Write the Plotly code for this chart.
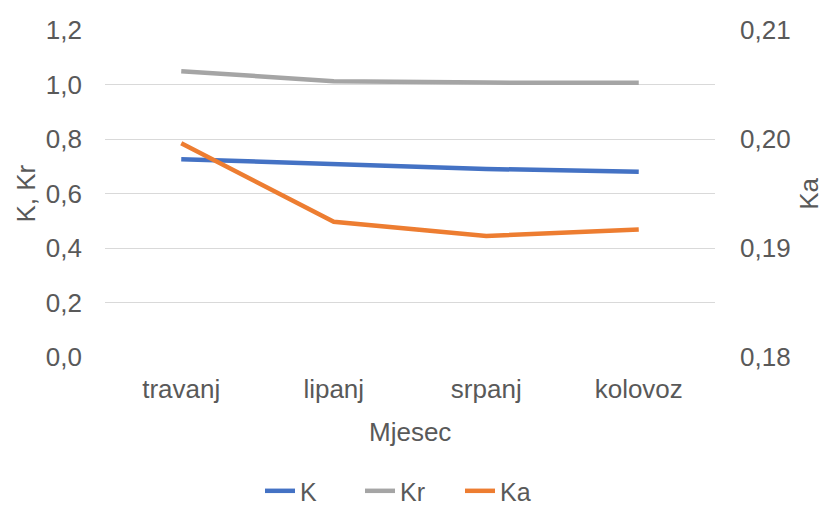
import plotly.graph_objects as go

months = ["travanj", "lipanj", "srpanj", "kolovoz"]
K = [0.726, 0.707, 0.690, 0.680]
Kr = [1.049, 1.012, 1.007, 1.006]
Ka = [0.1996, 0.1924, 0.1911, 0.1917]

FONT = "Liberation Sans, Arial, sans-serif"
GREY = "#595959"
FS = 26

fig = go.Figure()
fig.add_trace(go.Scatter(x=months, y=K, name="K", mode="lines",
                         line=dict(color="#4472C4", width=4.5)))
fig.add_trace(go.Scatter(x=months, y=Kr, name="Kr", mode="lines",
                         line=dict(color="#A5A5A5", width=4.5)))
fig.add_trace(go.Scatter(x=months, y=Ka, name="Ka", mode="lines", yaxis="y2",
                         line=dict(color="#ED7D31", width=4.5)))

fig.update_layout(
    width=827, height=506,
    margin=dict(l=105, r=112, t=30, b=149, autoexpand=False),
    paper_bgcolor="white", plot_bgcolor="white",
    separators=",.",
    font=dict(family=FONT, size=FS, color=GREY),
    showlegend=True,
    legend=dict(orientation="h", x=0.5, xanchor="center", y=-0.41, yanchor="middle",
                font=dict(size=25, color=GREY), entrywidth=55,
                entrywidthmode="pixels", tracegroupgap=0),
    xaxis=dict(
        type="category", range=[-0.5, 3.5], showgrid=False, zeroline=False,
        showline=False, ticks="", tickfont=dict(size=FS, color=GREY),
        ticklabelstandoff=14, automargin=False,
    ),
    yaxis=dict(
        range=[0, 1.2], dtick=0.2, tickformat=".1f", showgrid=True,
        gridcolor="#D9D9D9", gridwidth=1, zeroline=False, showline=False,
        ticks="", ticklabelstandoff=22, tickfont=dict(size=FS, color=GREY),
        automargin=False,
    ),
    yaxis2=dict(
        range=[0.18, 0.21], dtick=0.01, tickformat=".2f", overlaying="y",
        side="right", showgrid=False, zeroline=False, showline=False,
        ticks="", ticklabelstandoff=24, tickfont=dict(size=FS, color=GREY),
        automargin=False,
    ),
    annotations=[
        dict(text="Mjesec", xref="paper", yref="paper", x=0.5, y=-0.23,
             xanchor="center", yanchor="middle", showarrow=False,
             font=dict(size=FS, color=GREY)),
        dict(text="K, Kr", xref="paper", yref="paper", x=-0.131, y=0.5,
             xanchor="center", yanchor="middle", showarrow=False, textangle=-90,
             font=dict(size=FS, color=GREY)),
        dict(text="Ka", xref="paper", yref="paper", x=1.153, y=0.5,
             xanchor="center", yanchor="middle", showarrow=False, textangle=-90,
             font=dict(size=FS, color=GREY)),
    ],
)

fig.write_html("out.html", config={"displayModeBar": False},
               post_script="document.body.style.margin='0';document.body.style.overflow='hidden';")
